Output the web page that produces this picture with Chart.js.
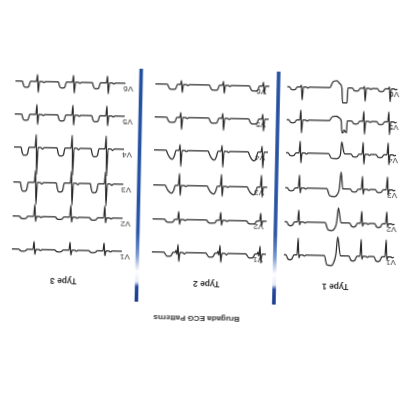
<!DOCTYPE html>
<html><head><meta charset="utf-8">
<script src="https://cdn.jsdelivr.net/npm/chart.js@4/dist/chart.umd.min.js"></script>
<style>
html,body{margin:0;padding:0;background:#fff;overflow:hidden;width:400px;height:400px}
#wrap{width:400px;height:400px;transform:rotate(181.2deg);transform-origin:200px 200px;background:#fff}
canvas{display:block}
</style></head><body>
<div id="wrap"><canvas id="c" width="400" height="400"></canvas></div>
<script>
// ---- text ----
const figureTitle = 'Brugada ECG Patterns';
const panelTitles = ['Type 1', 'Type 2', 'Type 3'];
const leads = ['V1', 'V2', 'V3', 'V4', 'V5', 'V6'];

// ---- beat times (ms) and trace spans (ms) ----
const type1Beats = [240, 740, 2000];
const type1EctopicBeats = [1150];
const type2Beats = [2760, 3560, 4400];
const type3Beats = [5880, 6560, 7280];
const type1Span = [100, 2300];
const type2Span = [2660, 4940];
const type3Span = [5540, 7740];

// ---- beat shapes: [ms from R, mV] ----
const type1V1 = [[-140,0],[-110,0.1],[-80,0],[-20,0],[0,0.3],[20,-1.7],[40,0],[100,0],[140,0.4],[180,0.5],[220,0.4],[260,0]];
const type1V2 = [[-140,0],[-110,0.1],[-80,0],[-20,0],[0,0.3],[20,-1.2],[40,0],[100,0],[140,0.3],[180,0.4],[220,0.3],[260,0]];
const type1V3 = [[-140,0],[-110,0.1],[-80,0],[-20,0],[0,0.5],[20,-1.3],[40,0],[100,0],[140,0.25],[180,0.3],[220,0.25],[260,0]];
const type1V4 = [[-140,0],[-110,0.1],[-80,0],[-20,0],[0,1.0],[20,-1.2],[40,0],[100,0],[140,0.25],[180,0.3],[220,0.25],[260,0]];
const type1V5 = [[-140,0],[-110,0.1],[-80,0],[-20,0],[0,1.3],[20,-1.0],[40,0],[100,0],[140,0.25],[180,0.3],[220,0.25],[260,0]];
const type1V6 = [[-140,0],[-110,0.1],[-80,0],[-20,0],[0,1.3],[20,-0.2],[40,0],[100,0],[140,0.25],[180,0.3],[220,0.25],[260,0]];

const type1EctV1 = [[20,0],[80,-1.9],[110,-0.2],[140,0.5],[200,1.0],[290,0.9],[340,0]];
const type1EctV2 = [[20,0],[80,-1.5],[110,0],[140,0.5],[200,0.8],[280,0.7],[340,0]];
const type1EctV3 = [[0,0],[40,-1.7],[70,0],[100,0.5],[160,0.8],[260,0.7],[320,0]];
const type1EctV4 = [[-20,0],[0,-0.3],[40,-1.2],[60,0],[80,0.3],[140,0.5],[240,0.45],[300,0]];
const type1EctV5 = [[-60,0],[-50,1.2],[0,0.9],[20,1.2],[40,1.2],[60,0],[100,-0.3],[160,-0.45],[240,-0.4],[300,0]];
const type1EctV6 = [[-60,0],[-50,1.5],[40,1.5],[60,0],[100,-0.4],[160,-0.7],[240,-0.6],[300,0]];

const type2V1 = [[-140,0],[-110,0.15],[-80,0],[-20,0],[0,0.9],[20,-0.8],[40,0.2],[60,-0.2],[80,0],[120,0],[150,0.3],[180,0.4],[240,0.4],[270,0.2],[300,0]];
const type2V2 = [[-140,0],[-110,0.1],[-80,0],[-20,0],[0,0.5],[20,-0.8],[40,0],[100,0],[130,0.25],[160,0.3],[240,0.3],[270,0.2],[300,0]];
const type2V3 = [[-140,0],[-110,0.1],[-80,0],[-20,0],[0,1.0],[20,-1.2],[40,0],[100,0],[130,0.5],[170,0.8],[230,0.6],[270,0.3],[300,0]];
const type2V4 = [[-140,0],[-110,0.1],[-80,0],[-20,0],[0,1.6],[20,-0.6],[40,0],[100,0],[130,0.5],[170,0.9],[230,0.7],[270,0.3],[300,0]];
const type2V5 = [[-140,0],[-110,0.1],[-80,0],[-20,0],[0,1.2],[20,-0.5],[40,0],[100,0],[130,0.4],[160,0.5],[240,0.5],[270,0.3],[300,0]];
const type2V6 = [[-140,0],[-110,0.1],[-80,0],[-20,0],[0,0.8],[20,-0.4],[40,0],[100,0],[130,0.4],[160,0.5],[240,0.5],[270,0.3],[300,0]];

const type3V1 = [[-140,0],[-110,0.1],[-80,0],[-20,0],[0,0.5],[20,-0.8],[40,0],[160,0],[190,0.15],[220,0.2],[270,0.2],[300,0.1],[320,0]];
const type3V2 = [[-140,0],[-110,0.1],[-80,0],[-20,0],[0,0.5],[20,-1.2],[40,0],[160,0],[190,0.2],[220,0.25],[270,0.25],[300,0.15],[320,0]];
const type3V3 = [[-140,0],[-110,0.15],[-80,0],[-20,0],[0,2.2],[20,-1.2],[40,0],[160,0],[190,0.7],[220,0.9],[270,0.9],[300,0.5],[320,0]];
const type3V4 = [[-140,0],[-110,0.15],[-80,0],[-20,0],[0,2.7],[20,-1.3],[40,0],[160,0],[190,0.65],[220,0.8],[270,0.8],[300,0.45],[320,0]];
const type3V5 = [[-140,0],[-110,0.1],[-80,0],[-20,0],[0,1.0],[20,-1.0],[40,0],[160,0],[190,0.5],[220,0.6],[270,0.6],[300,0.35],[320,0]];
const type3V6 = [[-140,0],[-110,0.1],[-80,0],[-20,0],[0,1.1],[20,-0.7],[40,0],[160,0],[190,0.5],[220,0.6],[270,0.6],[300,0.35],[320,0]];

// ---- layout (in axis units: ms, mV) ----
const leadOffsets = [5.3, 2.0, -1.4, -4.9, -8.2, -11.5];
const separatorX = [2480, 5230];
const separatorTop = 10.3, separatorBottom = -13.0;
const titlePos = {x: 4020, y: 11.8};
const panelTitleX = [1260, 3840, 6700], panelTitleY = 8.3;
const leadLabelX = [160, 2820, 5480], leadLabelDy = 0.5;

const panels = [
  {span: type1Span, beats: type1Beats, shapes: [type1V1,type1V2,type1V3,type1V4,type1V5,type1V6],
   ectopic: type1EctopicBeats, ectShapes: [type1EctV1,type1EctV2,type1EctV3,type1EctV4,type1EctV5,type1EctV6]},
  {span: type2Span, beats: type2Beats, shapes: [type2V1,type2V2,type2V3,type2V4,type2V5,type2V6], ectopic: [], ectShapes: []},
  {span: type3Span, beats: type3Beats, shapes: [type3V1,type3V2,type3V3,type3V4,type3V5,type3V6], ectopic: [], ectShapes: []}
];

function buildTrace(p, li) {
  const off = leadOffsets[li];
  const events = p.beats.map(t => [t, p.shapes[li]]).concat(p.ectopic.map(t => [t, p.ectShapes[li]]));
  events.sort((a, b) => a[0] - b[0]);
  const pts = [{x: p.span[0], y: off}];
  events.forEach(([t, shape]) => {
    shape.forEach(([dt, v]) => {
      const x = t + dt;
      if (x > p.span[0] && x < p.span[1]) pts.push({x, y: off + v});
    });
  });
  pts.push({x: p.span[1], y: off});
  return pts;
}

const datasets = [];
separatorX.forEach(x => {
  datasets.push({
    data: [{x, y: separatorTop}, {x, y: separatorBottom}],
    borderWidth: 3.6,
    borderCapStyle: 'butt',
    pointRadius: 0,
    borderColor: (ctx) => {
      const ch = ctx.chart;
      if (!ch.chartArea) return '#2650a4';
      const y0 = ch.scales.y.getPixelForValue(separatorTop);
      const y1 = ch.scales.y.getPixelForValue(separatorBottom);
      const g = ch.ctx.createLinearGradient(0, y0, 0, y1);
      g.addColorStop(0, '#1c3c8c');
      g.addColorStop(0.065, '#2447a0');
      g.addColorStop(0.085, '#e4ebf7');
      g.addColorStop(0.13, '#ffffff');
      g.addColorStop(0.2, '#7d9bd2');
      g.addColorStop(0.3, '#2a55a8');
      g.addColorStop(1, '#24509f');
      return g;
    }
  });
});
panels.forEach(p => {
  leads.forEach((l, li) => {
    datasets.push({
      data: buildTrace(p, li),
      borderColor: '#2c2c2c',
      borderWidth: 1.25,
      pointRadius: 0,
      cubicInterpolationMode: 'monotone',
      borderJoinStyle: 'round'
    });
  });
});

const textPlugin = {
  id: 'texts',
  afterDatasetsDraw(chart) {
    const {ctx, scales: {x, y}} = chart;
    ctx.save();
    ctx.fillStyle = '#333';
    ctx.textAlign = 'center';
    ctx.textBaseline = 'middle';
    ctx.font = 'bold 8px "Liberation Sans", Arial, sans-serif';
    ctx.fillText(figureTitle, x.getPixelForValue(titlePos.x), y.getPixelForValue(titlePos.y));
    ctx.font = 'bold 8.5px "Liberation Sans", Arial, sans-serif';
    panelTitles.forEach((t, i) => ctx.fillText(t, x.getPixelForValue(panelTitleX[i]), y.getPixelForValue(panelTitleY)));
    ctx.font = '8px "Liberation Sans", Arial, sans-serif';
    leadLabelX.forEach(lx => {
      leads.forEach((l, li) => ctx.fillText(l, x.getPixelForValue(lx), y.getPixelForValue(leadOffsets[li] + leadLabelDy)));
    });
    ctx.restore();
  }
};

new Chart(document.getElementById('c'), {
  type: 'line',
  data: {datasets},
  options: {
    responsive: false,
    animation: false,
    devicePixelRatio: 1,
    layout: {padding: 0},
    plugins: {legend: {display: false}, tooltip: {enabled: false}, title: {display: false}},
    scales: {
      x: {type: 'linear', min: 0, max: 8000, display: false},
      y: {type: 'linear', min: -20, max: 20, display: false}
    }
  },
  plugins: [textPlugin]
});
</script>
</body></html>
